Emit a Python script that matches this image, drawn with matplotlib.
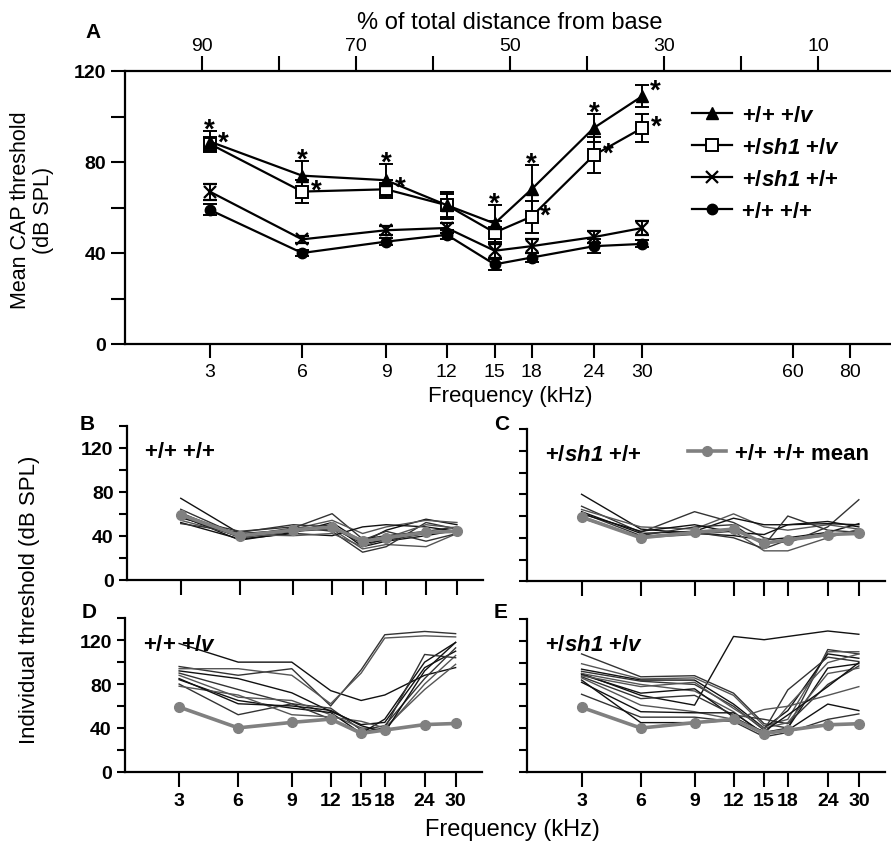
import matplotlib
matplotlib.use('Agg')
import matplotlib.pyplot as plt
import numpy as np

plt.rcParams['font.family'] = ['Liberation Sans', 'DejaVu Sans']
plt.rcParams['mathtext.fontset'] = 'custom'
plt.rcParams['mathtext.rm'] = 'Liberation Sans:italic:bold'
plt.rcParams['mathtext.it'] = 'Liberation Sans:italic:bold'
plt.rcParams['mathtext.bf'] = 'Liberation Sans:bold'

W, H = 891, 845

# frequencies tested (kHz)
FREQ = [3, 6, 9, 12, 15, 18, 24, 30]

# panel A: mean CAP thresholds (dB SPL) and error bars
WT_V_MEAN = [89, 74, 72, 61, 53, 68, 95, 109]
WT_V_ERR = [4.5, 6.5, 7, 6, 8, 10.5, 6, 5]
SH1_V_MEAN = [88, 67, 68, 61, 49, 56, 83, 95]
SH1_V_ERR = [3, 5, 4, 5, 5, 7, 8, 6]
SH1_WT_MEAN = [67, 46, 50, 51, 41, 43, 47, 51]
SH1_WT_ERR = [3.5, 1.5, 2, 2, 3, 3, 2.5, 3]
WT_WT_MEAN = [59, 40, 45, 48, 35, 38, 43, 44]
WT_WT_ERR = [2.5, 1.5, 1.5, 2, 2.5, 2, 3, 1.5]

# significance stars
WT_V_STARS = [3, 6, 9, 15, 18, 24, 30]
SH1_V_STARS = [3, 6, 9, 18, 24, 30]

# panel B: individual +/+ +/+
B_LINES = [
    [74, 42, 45, 50, 30, 35, 40, 45],
    [64, 40, 47, 60, 37, 40, 44, 48],
    [61, 38, 44, 46, 28, 32, 30, 42],
    [58, 36, 43, 52, 34, 45, 55, 50],
    [56, 44, 48, 44, 25, 30, 52, 46],
    [54, 40, 46, 54, 42, 48, 54, 52],
    [52, 37, 42, 40, 48, 50, 48, 44],
    [51, 43, 50, 48, 36, 44, 35, 42],
    [60, 41, 40, 42, 30, 38, 50, 47],
    [57, 39, 44, 47, 33, 36, 42, 44],
]
# panel C: individual +/sh1 +/+
C_LINES = [
    [80, 48, 44, 42, 38, 40, 45, 53],
    [69, 45, 64, 54, 40, 35, 50, 75],
    [66, 50, 48, 62, 50, 47, 52, 48],
    [64, 44, 46, 58, 52, 52, 53, 52],
    [63, 42, 50, 52, 33, 60, 47, 45],
    [60, 40, 43, 46, 28, 28, 40, 48],
    [62, 46, 52, 45, 43, 52, 55, 50],
    [58, 41, 45, 40, 30, 38, 42, 46],
]
# panel D: individual +/+ +/v
D_LINES = [
    [117, 100, 100, 74, 65, 70, 88, 95],
    [96, 88, 94, 60, 93, 125, 128, 126],
    [94, 94, 88, 62, 90, 122, 124, 123],
    [92, 85, 72, 55, 43, 45, 95, 110],
    [90, 75, 62, 58, 38, 42, 85, 113],
    [88, 68, 65, 52, 40, 38, 80, 106],
    [84, 65, 58, 54, 35, 48, 100, 118],
    [80, 52, 62, 48, 36, 40, 107, 104],
    [78, 70, 52, 50, 46, 40, 75, 98],
    [85, 62, 60, 56, 42, 36, 92, 118],
]
# panel E: individual +/sh1 +/v
E_LINES = [
    [90, 70, 61, 124, 121, 124, 129, 126],
    [108, 87, 88, 72, 44, 40, 112, 108],
    [99, 85, 86, 70, 42, 48, 110, 110],
    [94, 84, 84, 62, 40, 56, 108, 104],
    [92, 83, 80, 60, 38, 75, 105, 101],
    [90, 80, 74, 55, 34, 60, 100, 108],
    [89, 72, 76, 50, 36, 40, 95, 99],
    [87, 67, 70, 52, 48, 44, 80, 97],
    [86, 61, 55, 48, 57, 60, 70, 78],
    [82, 55, 54, 54, 35, 38, 62, 56],
    [71, 50, 50, 46, 32, 36, 48, 53],
    [88, 78, 82, 58, 40, 45, 90, 95],
    [84, 45, 45, 47, 37, 52, 78, 100],
]

A_XTICKS = [3, 6, 9, 12, 15, 18, 24, 30, 60, 80]
TOP_TICKS = [90, 80, 70, 60, 50, 40, 30, 20, 10]
TOP_LABELED = [90, 70, 50, 30, 10]

# cochlear place map (kHz -> % distance from base)
MAP_KHZ = np.array([1.6, 3, 6, 9, 12, 15, 18, 24, 30, 60, 80, 100])
MAP_PCT = np.array([100, 89, 77, 66.1, 58.2, 52, 47.2, 39.1, 32.8, 13.3, 5.8, 0])


def khz_to_pos(f):
    f = np.clip(np.asarray(f, dtype=float), 1e-3, None)
    return 100 - np.interp(np.log10(f), np.log10(MAP_KHZ), MAP_PCT)


def pos_to_khz(p):
    p = np.asarray(p, dtype=float)
    return 10 ** np.interp(100 - p, MAP_PCT[::-1], np.log10(MAP_KHZ)[::-1])


fig = plt.figure(figsize=(W / 100, H / 100), dpi=100)


def add_axes_px(left, top, right, bottom):
    return fig.add_axes([left / W, 1 - bottom / H, (right - left) / W, (bottom - top) / H])


def fx(x):
    return x / W


def fy(y):
    return 1 - y / H


def star(ax, x, y, dx, dy):
    ax.annotate('*', xy=(x, y), xytext=(dx, dy - 11), textcoords='offset points',
                ha='center', va='baseline', fontsize=20, fontweight='bold')


# ---------------- Panel A ----------------
ax = add_axes_px(125, 72, 895, 345)
ax.set_xscale('function', functions=(khz_to_pos, pos_to_khz))

kw = dict(color='black', lw=1.6, capsize=5, elinewidth=1.4, capthick=1.4)
h_ww = ax.errorbar(FREQ, WT_WT_MEAN, yerr=WT_WT_ERR, marker='o', ms=7.5, **kw)
h_sw = ax.errorbar(FREQ, SH1_WT_MEAN, yerr=SH1_WT_ERR, marker='x', ms=9, mew=1.6, **kw)
h_sv = ax.errorbar(FREQ, SH1_V_MEAN, yerr=SH1_V_ERR, marker='s', ms=8, mfc='white', mew=1.4, **kw)
h_wv = ax.errorbar(FREQ, WT_V_MEAN, yerr=WT_V_ERR, marker='^', ms=9, **kw)

for f in WT_V_STARS:
    i = FREQ.index(f)
    if f == FREQ[-1]:
        star(ax, f, WT_V_MEAN[i] + WT_V_ERR[i], 9, 2)
    else:
        star(ax, f, WT_V_MEAN[i] + WT_V_ERR[i], 0, 7)
for f in SH1_V_STARS:
    i = FREQ.index(f)
    star(ax, f, SH1_V_MEAN[i], 10, 7)

ax.set_xlim(MAP_KHZ[0], MAP_KHZ[-1])
ax.set_ylim(0, 120)
ax.set_xticks(A_XTICKS)
ax.set_xticklabels([str(t) for t in A_XTICKS], fontsize=14)
ax.set_yticks([0, 40, 80, 120])
ax.set_yticklabels(['0', '40', '80', '120'], fontsize=14, fontweight='bold')
ax.set_yticks([20, 60, 100], minor=True)
ax.tick_params(which='both', direction='out', length=10, width=1.5)
ax.tick_params(axis='x', which='minor', bottom=False)
ax.set_xlabel('Frequency (kHz)', fontsize=16, labelpad=4)
for s in ['top', 'right']:
    ax.spines[s].set_visible(False)
for s in ['left', 'bottom']:
    ax.spines[s].set_linewidth(1.6)

ax_top = ax.twiny()
ax_top.set_xlim(100, 0)
ax_top.set_xticks(TOP_TICKS)
ax_top.set_xticklabels([str(t) if t in TOP_LABELED else '' for t in TOP_TICKS], fontsize=14)
ax_top.tick_params(direction='out', length=10.5, width=1.5, pad=1.5)
ax_top.set_xlabel('% of total distance from base', fontsize=17, labelpad=7)
for s in ['left', 'right', 'bottom']:
    ax_top.spines[s].set_visible(False)
ax_top.spines['top'].set_linewidth(1.6)

legend_labels = [r'+/+ +/$\mathit{v}$', r'+/$\mathit{sh1}$ +/$\mathit{v}$',
                 r'+/$\mathit{sh1}$ +/+', '+/+ +/+']
leg = ax.legend([h_wv[0], h_sv[0], h_sw[0], h_ww[0]], legend_labels,
                loc='upper left', bbox_to_anchor=(0.71, 0.95), frameon=False,
                handlelength=1.8, handletextpad=0.45, labelspacing=0.5,
                prop={'size': 16, 'weight': 'bold'})

fig.text(fx(32), fy(210), 'Mean CAP threshold\n(dB SPL)', rotation=90, ha='center',
         va='center', multialignment='center', fontsize=15.5, linespacing=1.1)
fig.text(fx(85), fy(33), 'A', fontsize=15, fontweight='bold', ha='left', va='center')


# ---------------- Panels B-E ----------------
LINE_COLORS = ['#111111', '#333333', '#555555']


def small_panel(ax, lines, label, letter, letter_xy, ylabels, xlabels, right_pct):
    ax.set_xscale('function', functions=(khz_to_pos, pos_to_khz))
    for i, vals in enumerate(lines):
        ax.plot(FREQ, vals, color=LINE_COLORS[i % 3], lw=1.0)
    mean_h, = ax.plot(FREQ, WT_WT_MEAN, color='#808080', lw=2.6, marker='o', ms=7, zorder=5)
    ax.set_xlim(MAP_KHZ[0], float(pos_to_khz(100 - right_pct)))
    ax.set_ylim(0, 140)
    ax.set_xticks(FREQ)
    if xlabels:
        ax.set_xticklabels([str(t) for t in FREQ], fontsize=14, fontweight='bold')
    else:
        ax.set_xticklabels([])
    ax.set_yticks([0, 40, 80, 120])
    ax.set_yticks([20, 60, 100, 140], minor=True)
    if ylabels:
        ax.set_yticklabels(['0', '40', '80', '120'], fontsize=14, fontweight='bold')
    else:
        ax.set_yticklabels([])
    ax.tick_params(axis='y', which='both', direction='out', length=6, width=1.5)
    ax.tick_params(axis='x', which='both', direction='out', length=11, width=1.5)
    ax.tick_params(axis='x', which='minor', bottom=False)
    for s in ['top', 'right']:
        ax.spines[s].set_visible(False)
    for s in ['left', 'bottom']:
        ax.spines[s].set_linewidth(1.6)
    ax.text(0.05, 0.83, label, transform=ax.transAxes, fontsize=16, fontweight='bold',
            ha='left', va='center')
    fig.text(fx(letter_xy[0]), fy(letter_xy[1]), letter, fontsize=15, fontweight='bold',
             ha='left', va='center')
    return mean_h


small_panel(add_axes_px(126.7, 426.7, 483, 580.7), B_LINES, '+/+ +/+', 'B', (80, 425),
            True, False, 27.5)
ax_c = add_axes_px(527.3, 430, 885, 582.3)
mean_h = small_panel(ax_c, C_LINES, r'+/$\mathit{sh1}$ +/+', 'C', (494, 425),
                     False, False, 27.5)
ax_c.legend([mean_h], ['+/+ +/+ mean'], loc='upper right', bbox_to_anchor=(1.01, 1.04),
            frameon=False, handlelength=1.7, handletextpad=0.4,
            prop={'size': 16, 'weight': 'bold'})
small_panel(add_axes_px(125, 619.3, 481.7, 772.7), D_LINES, r'+/+ +/$\mathit{v}$', 'D',
            (82, 613), True, True, 27.5)
small_panel(add_axes_px(527.3, 620, 885, 772.7), E_LINES, r'+/$\mathit{sh1}$ +/$\mathit{v}$',
            'E', (494, 613), False, True, 27.5)

fig.text(fx(30), fy(600), 'Individual threshold (dB SPL)', rotation=90, ha='center',
         va='center', fontsize=16)
fig.text(fx(512), fy(830), 'Frequency (kHz)', ha='center', va='center', fontsize=17)

fig.savefig('out.png', dpi=100)
